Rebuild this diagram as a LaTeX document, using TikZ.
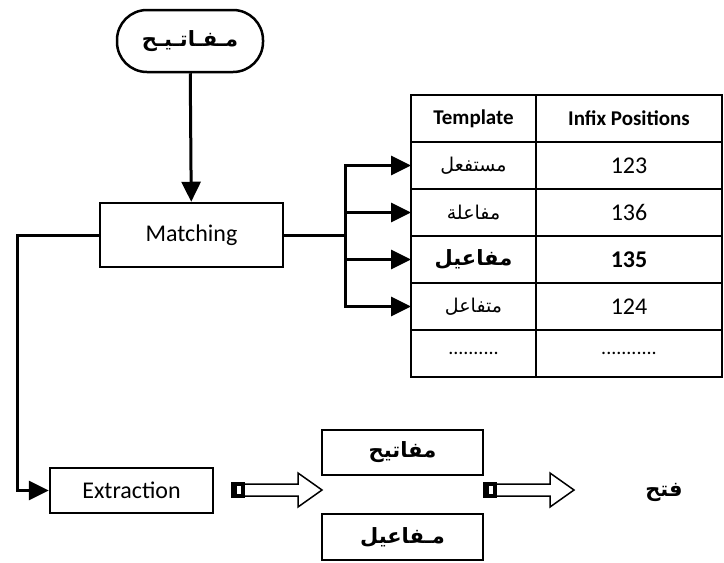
\documentclass[tikz,border=0pt]{standalone}
\usepackage{fontspec}
\setmainfont{Carlito}
\newfontfamily\arabicfont[Script=Arabic]{DejaVu Sans}
\TeXXeTstate=1
\usetikzlibrary{arrows.meta,positioning}
\tikzset{
    box/.style={rectangle, draw, line width=2.5pt, inner sep=0pt, font=\fontsize{24}{28}\selectfont},
    cell/.style={rectangle, draw, line width=2.5pt, inner sep=0pt, outer sep=0pt, minimum height=47pt, font=\fontsize{24}{28}\selectfont},
    head/.style={cell, font=\bfseries\fontsize{21}{24}\selectfont},
    arab/.style={font=\arabicfont\fontsize{19}{22}\selectfont},
    arabbold/.style={font=\arabicfont\bfseries\fontsize{21}{24}\selectfont},
    dots/.style={font=\fontsize{20}{22}\selectfont},
    link/.style={line width=3pt, -{Triangle[length=20pt,width=19pt]}},
    wire/.style={line width=3pt},
}

\begin{document}
\begin{tikzpicture}[x=1pt,y=-1pt]
\useasboundingbox (0,0) rectangle (724,563);

\node[box, rounded corners=30pt, minimum width=146pt, minimum height=62pt, arabbold] (keys) at (190,41) {\beginR مـفـاتـيـح\endR};
\node[box, minimum width=183pt, minimum height=64pt] (match) at (191.5,235) {Matching};
\node[box, minimum width=163pt, minimum height=45pt] (extract) at (131.5,490.5) {Extraction};

% table of templates
\node[head, minimum width=125pt] (t0) at (473.5,118.5) {Template};
\node[head, minimum width=186pt, right=0pt of t0] (p0) {Infix Positions};
\node[cell, minimum width=125pt, below=0pt of t0, arab] (t1) {\beginR مستفعل\endR};
\node[cell, minimum width=186pt, right=0pt of t1] (p1) {123};
\node[cell, minimum width=125pt, below=0pt of t1, arab] (t2) {\beginR مفاعلة\endR};
\node[cell, minimum width=186pt, right=0pt of t2] (p2) {136};
\node[cell, minimum width=125pt, below=0pt of t2, arabbold] (t3) {\beginR مفاعيل\endR};
\node[cell, minimum width=186pt, right=0pt of t3, font=\bfseries\fontsize{24}{28}\selectfont] (p3) {135};
\node[cell, minimum width=125pt, below=0pt of t3, arab] (t4) {\beginR متفاعل\endR};
\node[cell, minimum width=186pt, right=0pt of t4] (p4) {124};
\node[cell, minimum width=125pt, below=0pt of t4, dots] (t5) {..........};
\node[cell, minimum width=186pt, right=0pt of t5, dots] (p5) {...........};

% results
\node[box, minimum width=161pt, minimum height=45pt, arabbold] (w1) at (402.5,452.5) {\beginR مفاتيح\endR};
\node[box, minimum width=161pt, minimum height=46pt, arabbold] (w2) at (402.5,537) {\beginR مـفاعيل\endR};
\node[arabbold] (root) at (664,492) {\beginR فتح\endR};

% connectors
\draw[link] (keys) -- (match);
\coordinate (fork) at (345,235);
\coordinate (bend) at (17,235);
\draw[wire] (match.east) -- (fork);
\draw[wire, line cap=rect] (fork |- t1.west) -- (fork |- t4.west);
\foreach \r in {1,...,4}
    \draw[link] (fork |- t\r.west) -- (t\r.west);
\draw[link] (match.west) -- (bend) |- (extract.west);

% block arrows
\foreach \s in {0,252} {
\begin{scope}[xshift=\s pt]
\fill (231,482) rectangle (245,498);
\fill[white] (237,486) rectangle (241,494);
\draw[line width=1.5pt] (245,484) -- (298,484) -- (298,473) -- (322,490) -- (298,507) -- (298,496) -- (245,496);
\end{scope}
}
\end{tikzpicture}
\end{document}
